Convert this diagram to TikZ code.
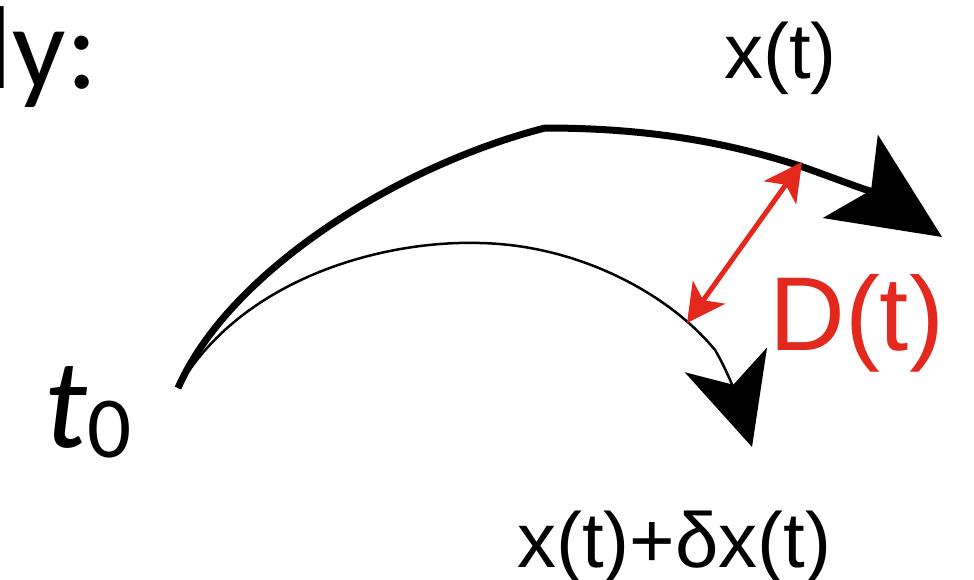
\documentclass[tikz,border=0pt]{standalone}
\usepackage{fontspec}
\usepackage{tikz}
\usetikzlibrary{arrows.meta}
\setmainfont{Liberation Sans}
\newfontfamily\slidefont{Carlito}
\definecolor{gapred}{HTML}{E3281E}

\begin{document}
\begin{tikzpicture}[x=1pt, y=-1pt,
    lbl/.style={inner sep=0pt, anchor=base west}]
  \useasboundingbox (0,0) rectangle (974,579);
  \clip (0,0) rectangle (974,579);
  % trajectories
  \coordinate (start) at (178,388);
  \draw[line width=7pt, -{Stealth[length=110pt, width=100pt, inset=25pt, line width=0pt]}]
    (start) .. controls (230,270) and (400,165) .. (545,128)
    .. controls (640,128) and (720,140) .. (800,166)
    .. controls (840,180) and (880,196) .. (942,237);
  \draw[line width=2.5pt, -{Stealth[length=91pt, width=86pt, inset=26pt, line width=0pt]}]
    (start) .. controls (240,280) and (380,240) .. (480,243)
    .. controls (580,245) and (670,295) .. (715,350)
    .. controls (730,375) and (740,407) .. (752,447);
  % distance
  \coordinate (xpt) at (802,162);
  \coordinate (dpt) at (687,323);
  \draw[gapred, line width=5pt,
    {Stealth[length=38pt, width=40pt, inset=10pt, line width=0pt]}-{Stealth[length=38pt, width=40pt, inset=10pt, line width=0pt]}]
    (dpt) -- (xpt);
  % labels
  \node[inner sep=0pt, anchor=base east] (title) at (98,88) {\slidefont\fontsize{118}{120}\selectfont ly:};
  \node[lbl] (xlabel) at (724,78) {\fontsize{78}{80}\selectfont x(t)};
  \node[lbl] (dxlabel) at (517,567) {\fontsize{78}{80}\selectfont x(t)+δx(t)};
  \node[lbl, text=gapred] (dlabel) at (769,350) {\fontsize{105}{110}\selectfont D(t)};
  \node[lbl] (tzero) at (44,447) {\slidefont\fontsize{128}{130}\selectfont\itshape t\upshape\raisebox{-10pt}{\fontsize{87}{90}\selectfont 0}};
\end{tikzpicture}
\end{document}
